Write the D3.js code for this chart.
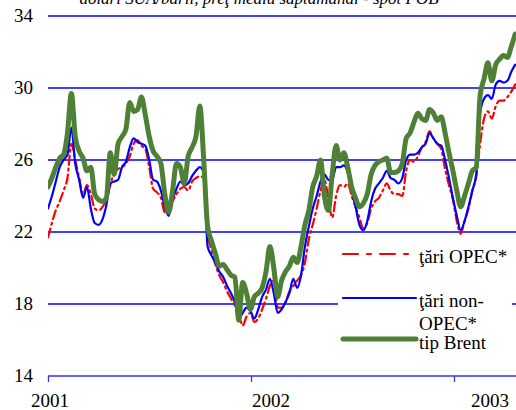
<!DOCTYPE html>
<html>
<head>
<meta charset="utf-8">
<style>
    body { margin: 0; background: #fff; }
    text { font-family: "Liberation Serif", "Times New Roman", serif; fill: #000; }
    .tick-label { font-size: 19px; }
    .legend-label { font-size: 19px; }
</style>
<script src="https://d3js.org/d3.v7.min.js"></script>
</head>
<body>
<svg width="516" height="410"></svg>
<script>
    // weekly prices, USD/barrel, first week starts 2001-01-01
    var opec = [21.7, 22.5, 23.2, 23.7, 24.3, 25.0, 26.9, 26.0, 25.0, 24.1,
                24.6, 24.1, 23.3, 23.2, 23.4, 23.8, 24.6, 25.3, 25.5, 25.6,
                25.8, 26.2, 26.9, 27.1, 26.8, 26.6, 25.6, 24.4, 24.2, 23.9,
                23.1, 23.2, 23.7, 24.1, 24.4, 24.5, 24.3, 24.8, 25.0, 25.1,
                25.0, 22.0, 21.0, 20.2, 19.6, 19.2, 18.7, 18.3, 17.9, 17.5,
                16.8, 17.3, 17.5, 17.0, 17.2, 17.7, 18.3, 19.0, 19.3, 17.8,
                17.8, 18.1, 18.7, 19.0, 19.3, 19.6, 20.3, 21.6, 22.4, 23.3,
                24.3, 24.9, 23.9, 22.8, 24.0, 24.6, 24.5, 24.7, 24.0, 23.4,
                22.8, 22.2, 22.5, 23.3, 23.7, 23.9, 24.3, 24.7, 24.3, 24.1,
                24.1, 24.0, 25.4, 26.0, 25.9, 26.2, 26.7, 27.0, 27.6, 27.2,
                26.9, 26.6, 25.5, 24.6, 23.8, 22.6, 21.9, 22.6, 23.3, 24.3,
                25.1, 26.9, 28.3, 28.7, 28.3, 29.0, 29.3, 29.3, 29.5, 29.8, 30.2];

    var nonOpec = [23.3, 24.0, 24.8, 25.6, 26.0, 26.3, 27.8, 25.8, 24.9, 23.9,
                   24.5, 23.3, 22.5, 22.4, 22.7, 23.5, 24.7, 24.8, 24.9, 25.6,
                   25.9, 26.7, 27.2, 27.0, 26.9, 26.8, 26.0, 24.9, 24.8, 24.3,
                   23.4, 22.9, 23.8, 24.4, 24.8, 24.6, 24.7, 25.1, 25.4, 25.6,
                   25.3, 21.2, 20.7, 20.3, 19.8, 19.5, 19.0, 18.6, 18.1, 17.2,
                   17.5, 17.8, 17.6, 17.2, 17.7, 18.4, 18.8, 19.4, 18.6, 17.5,
                   17.7, 18.1, 18.6, 19.4, 18.9, 19.6, 21.2, 22.3, 23.3, 24.0,
                   24.8, 25.2, 24.9, 24.9, 25.6, 25.6, 25.7, 25.3, 24.3, 23.4,
                   22.4, 22.1, 22.6, 23.7, 24.4, 24.7, 25.0, 25.4, 25.0, 24.9,
                   24.7, 25.0, 26.0, 26.3, 26.3, 26.4, 26.7, 26.9, 27.5, 27.2,
                   26.9, 26.8, 26.0, 25.0, 23.9, 22.9, 22.1, 22.6, 23.4, 24.3,
                   25.2, 28.6, 29.4, 29.6, 29.4, 30.2, 30.4, 30.3, 30.4, 30.9, 31.3];

    var brent = [24.5, 25.0, 25.6, 26.1, 26.3, 27.5, 29.7, 27.3, 26.5, 26.1,
                 25.4, 25.6, 24.1, 23.8, 23.7, 23.9, 26.4, 25.2, 26.9, 27.3,
                 27.7, 29.2, 28.7, 28.8, 29.5, 28.5, 27.3, 26.5, 26.2, 25.8,
                 24.1, 23.1, 24.3, 25.8, 25.6, 24.7, 26.2, 26.7, 27.3, 29.0,
                 26.0, 22.3, 21.5, 20.8, 20.1, 20.2, 19.9, 19.6, 19.5, 17.1,
                 19.2, 18.6, 17.7, 18.4, 18.6, 18.9, 19.8, 21.2, 20.0, 18.4,
                 19.3, 19.8, 20.1, 20.6, 20.3, 21.2, 22.4, 23.2, 24.5, 25.1,
                 26.0, 24.0, 23.2, 25.2, 26.8, 26.0, 26.4, 25.6, 24.5, 23.9,
                 23.4, 23.6, 24.1, 25.2, 25.7, 25.9, 26.0, 26.1, 25.3, 25.3,
                 25.4, 25.8, 27.2, 27.5, 28.1, 28.6, 28.3, 28.2, 28.8, 28.6,
                 28.2, 28.4, 27.5, 26.4, 25.4, 24.3, 23.4, 24.0, 24.7, 25.4,
                 25.6, 29.6, 30.5, 31.4, 30.4, 31.3, 31.6, 31.8, 31.7, 32.3, 33.0];

    var yTicks = [14, 18, 22, 26, 30, 34];
    var yearTicks = [2001, 2002, 2003];
    var legendNames = ["ţări OPEC*", "ţări non-", "OPEC*", "tip Brent"];
    var titleText = "dolari SUA/baril, preţ mediu săptămânal - spot FOB";

    var weeks = d3.range(brent.length).map(function (i) {
        return d3.timeDay.offset(new Date(2001, 0, 1), 7 * i);
    });

    var svg = d3.select("svg");
    var plotLeft = 48, plotRight = 516, plotTop = 16, plotBottom = 376;

    var x = d3.scaleTime()
        .domain([new Date(2001, 0, 1), new Date(2003, 0, 1)])
        .range([plotLeft, 454]);
    var y = d3.scaleLinear().domain([14, 34]).range([plotBottom, plotTop]);

    svg.append("defs").append("clipPath").attr("id", "plot")
        .append("rect").attr("x", plotLeft).attr("y", 0)
        .attr("width", plotRight - plotLeft).attr("height", 410);

    // title, cut at the top edge as in the source
    svg.append("text")
        .attr("x", 259).attr("y", 4)
        .attr("text-anchor", "middle")
        .style("font-size", "17px").style("font-style", "italic")
        .text(titleText);

    // gridlines
    svg.append("g").selectAll("line")
        .data(yTicks.slice(1))
        .enter().append("line")
        .attr("x1", plotLeft).attr("x2", plotRight)
        .attr("y1", function (d) { return y(d); })
        .attr("y2", function (d) { return y(d); })
        .attr("stroke", "#0000ff").attr("stroke-width", 1.3);

    // y labels
    svg.append("g").selectAll("text")
        .data(yTicks)
        .enter().append("text")
        .attr("class", "tick-label")
        .attr("x", 33)
        .attr("y", function (d) { return y(d) + 6; })
        .attr("text-anchor", "end")
        .text(function (d) { return d; });

    // x axis
    var xAxis = d3.axisBottom(x)
        .tickValues(yearTicks.map(function (yr) { return new Date(yr, 0, 1); }))
        .tickSize(6)
        .tickFormat("");
    var gx = svg.append("g").attr("transform", "translate(0," + plotBottom + ")").call(xAxis);
    gx.select(".domain").remove();
    gx.selectAll(".tick line").attr("stroke", "#3333ff").attr("stroke-width", 1.3);
    gx.append("line").attr("x1", plotLeft).attr("x2", plotRight)
        .attr("stroke", "#3333ff").attr("stroke-width", 1.3);

    var labelShift = [2, 20, 36];
    svg.append("g").selectAll("text")
        .data(yearTicks)
        .enter().append("text")
        .attr("class", "tick-label")
        .attr("x", function (d, i) { return x(new Date(d, 0, 1)) + labelShift[i]; })
        .attr("y", 407)
        .attr("text-anchor", "middle")
        .text(function (d) { return d; });

    var line = d3.line()
        .x(function (d, i) { return x(weeks[i]); })
        .y(function (d) { return y(d); })
        .curve(d3.curveMonotoneX);

    var plot = svg.append("g").attr("clip-path", "url(#plot)");

    var series = [
        { values: opec, color: "#ff0000", width: 2.2, dash: "9,4,2,4" },
        { values: nonOpec, color: "#0000ff", width: 2.2, dash: null },
        { values: brent, color: "#4e8136", width: 5, dash: null }
    ];

    plot.selectAll("path")
        .data(series)
        .enter().append("path")
        .attr("d", function (d) { return line(d.values); })
        .attr("fill", "none")
        .attr("stroke", function (d) { return d.color; })
        .attr("stroke-width", function (d) { return d.width; })
        .attr("stroke-dasharray", function (d) { return d.dash; })
        .attr("stroke-linejoin", "round")
        .attr("stroke-linecap", "round");

    // legend
    var legend = svg.append("g");
    legend.append("rect")
        .attr("x", 338).attr("y", 238).attr("width", 174).attr("height", 124)
        .attr("fill", "#fff");

    var legendRows = [
        { s: series[0], y: 254 },
        { s: series[1], y: 298 },
        { s: series[2], y: 339 }
    ];
    legend.selectAll("line")
        .data(legendRows)
        .enter().append("line")
        .attr("x1", 343).attr("x2", 416)
        .attr("y1", function (d) { return d.y; })
        .attr("y2", function (d) { return d.y; })
        .attr("stroke", function (d) { return d.s.color; })
        .attr("stroke-width", function (d) { return d.s.width; })
        .attr("stroke-dasharray", function (d) { return d.s.dash ? "15,9,4,9" : null; })
        .attr("stroke-linecap", "round");

    var legendY = [263, 307, 330, 349];
    legend.selectAll("text")
        .data(legendNames)
        .enter().append("text")
        .attr("class", "legend-label")
        .attr("x", 419)
        .attr("y", function (d, i) { return legendY[i]; })
        .text(function (d) { return d; });
</script>
</body>
</html>
